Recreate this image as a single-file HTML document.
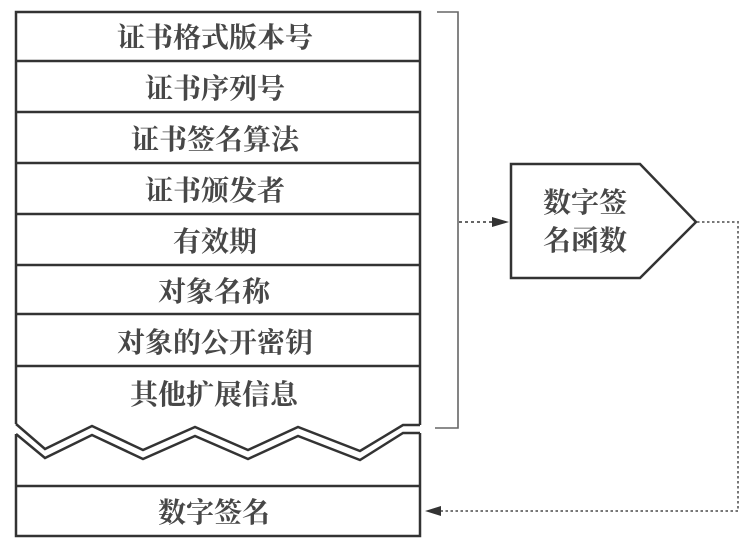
<!DOCTYPE html>
<html>
<head>
<meta charset="utf-8">
<style>
  html,body{margin:0;padding:0;background:#fff;}
  svg{display:block;}
  text{font-family:"Liberation Serif","Noto Serif CJK SC","Noto Sans CJK SC",serif;font-size:28px;font-weight:bold;fill:#474747;}
</style>
</head>
<body>
<svg width="756" height="549" viewBox="0 0 756 549" xmlns="http://www.w3.org/2000/svg">
  <rect x="0" y="0" width="756" height="549" fill="#fff"/>
  <!-- upper section -->
  <g stroke="#333" stroke-width="2.5" fill="none" stroke-linejoin="miter">
    <polyline points="16,424 16,12 420,12 420,425"/>
    <line x1="16" y1="61" x2="420" y2="61"/>
    <line x1="16" y1="112" x2="420" y2="112"/>
    <line x1="16" y1="163" x2="420" y2="163"/>
    <line x1="16" y1="214" x2="420" y2="214"/>
    <line x1="16" y1="265" x2="420" y2="265"/>
    <line x1="16" y1="314" x2="420" y2="314"/>
    <line x1="16" y1="366" x2="420" y2="366"/>
    <!-- upper zigzag -->
    <polyline points="16,424 45,449 92,426 143,450 195,427 248,450 298,427 360,451 403,425 420,425"/>
    <!-- lower zigzag -->
    <polyline points="16,434 45,458 92,435 143,459 195,436 248,459 298,436 360,460 403,433 420,433"/>
    <!-- lower section -->
    <polyline points="16,434 16,536 420,536 420,433"/>
    <line x1="16" y1="486" x2="420" y2="486"/>
  </g>

  <!-- bracket -->
  <polyline points="437,12 458,12 458,428 435,428" stroke="#666" stroke-width="1.6" fill="none"/>

  <!-- dotted arrow to function -->
  <line x1="459" y1="222" x2="494" y2="222" stroke="#666" stroke-width="2" stroke-dasharray="3,3"/>
  <polygon points="492,217 509,222 492,227" fill="#333"/>

  <!-- pentagon -->
  <polygon points="511,164 640,164 696,222 640,278 511,278" fill="#fff" stroke="#333" stroke-width="2.5"/>

  <!-- output dotted path -->
  <polyline points="697,222 738,222 738,511 440,511" fill="none" stroke="#777" stroke-width="2" stroke-dasharray="2.5,2.5"/>
  <polygon points="441,506 425,511 441,516" fill="#333"/>

  <!-- labels -->
  <g text-anchor="middle">
    <text x="215" y="47">证书格式版本号</text>
    <text x="215" y="98">证书序列号</text>
    <text x="215" y="149">证书签名算法</text>
    <text x="215" y="200">证书颁发者</text>
    <text x="215" y="251">有效期</text>
    <text x="214" y="301">对象名称</text>
    <text x="215" y="352">对象的公开密钥</text>
    <text x="214" y="404">其他扩展信息</text>
    <text x="214" y="522">数字签名</text>
    <text x="585" y="212">数字签</text>
    <text x="585" y="250">名函数</text>
  </g>
</svg>
</body>
</html>
